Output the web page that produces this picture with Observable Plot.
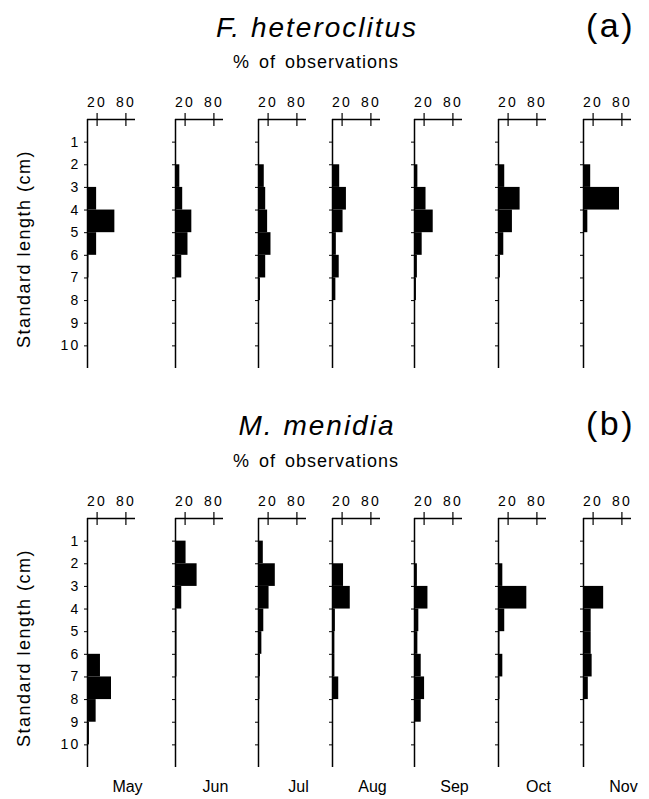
<!DOCTYPE html>
<html><head><meta charset="utf-8">
<script src="https://cdn.jsdelivr.net/npm/d3@7"></script>
<script src="https://cdn.jsdelivr.net/npm/@observablehq/plot@0.6"></script>
<style>
html,body{margin:0;padding:0;background:#fff;overflow:hidden}
#fig{position:relative;width:649px;height:799px;font-family:"Liberation Sans",Arial,sans-serif;color:#000;overflow:hidden}
.t{position:absolute;white-space:nowrap;line-height:1}
.mini{position:absolute}
.mini g[aria-label="text"]{letter-spacing:0}
</style></head><body><div id="fig"></div>
<script>
// ---- data ----
const months = ["May","Jun","Jul","Aug","Sep","Oct","Nov"];
const binStarts = [1,2,3,4,5,6,7,8,9,10];      // standard-length bins (cm): [b, b+1)
const yTicks = [1,2,3,4,5,6,7,8,9,10];
const xTicks = [20,80];
const speciesA = "F. heteroclitus";
const speciesB = "M. menidia";
// % of observations per bin, one row per month (May..Nov)
const heteroclitus = [
  [0, 0.5, 19, 57, 19, 3, 0.5, 0, 0, 0],
  [1.5, 9, 15, 34, 26, 13, 2, 0.5, 0, 0],
  [2, 12, 15, 19, 26, 15, 4, 1, 0, 0],
  [0.5, 15, 29, 22, 8, 14, 7, 1, 0, 0],
  [0.5, 7, 24, 39, 16, 6, 4, 0.5, 0, 0],
  [0, 13, 45, 29, 11, 4, 1, 0, 0, 0],
  [0, 15, 75, 9, 0, 0, 0, 0, 0, 0]
];
const menidia = [
  [0, 0, 0, 0, 0, 27, 50, 18, 4, 0],
  [22, 45, 13, 3, 3, 3, 2, 1, 0.5, 0],
  [10, 35, 22, 11, 7, 4, 3, 2, 0.5, 0],
  [0, 23, 37, 6, 5, 5, 13, 2, 0, 0],
  [0, 6, 28, 9, 7, 14, 21, 14, 1, 0],
  [0, 9, 59, 13, 3, 9, 3, 2, 1, 0],
  [0, 0, 42, 16, 16, 18, 10, 0, 0, 0]
];

// ---- layout ----
const FONT = '"Liberation Sans", Arial, sans-serif';
const monthX = [87, 175, 257.5, 332, 414, 498, 583]; // pixel of each panel's zero line
const axisTop = [119, 517.7];
const ML = 40, MR = 30, MT = 40, MB = 34, XW = 48, YH = 249;
const fig = document.getElementById("fig");

function addText(txt, css) {
  const d = document.createElement("div");
  d.className = "t";
  d.textContent = txt;
  Object.assign(d.style, css);
  fig.appendChild(d);
}

function miniPlot(values, month, showY, showMonth) {
  const rows = binStarts.map((b, i) => ({lo: b, hi: b + 1, pct: values[i]}));
  return Plot.plot({
    width: ML + XW + MR, height: MT + YH + MB,
    marginLeft: ML, marginRight: MR, marginTop: MT, marginBottom: MB,
    style: {fontFamily: FONT, fontSize: "14px", letterSpacing: "2.2px", background: "transparent", overflow: "visible", color: "black"},
    x: {domain: [0, 100]},
    y: {domain: [0, 11], reverse: true},
    marks: [
      Plot.rect(rows, {x1: 0, x2: "pct", y1: "lo", y2: "hi", fill: "black"}),
      Plot.ruleX([0], {strokeWidth: 1.5}),
      Plot.ruleY([0], {strokeWidth: 1.4}),
      Plot.ruleX(xTicks, {y1: 0, y2: 0, insetTop: -6, insetBottom: -7, strokeWidth: 1.2}),
      Plot.axisX({anchor: "top", ticks: xTicks, tickSize: 0, tickPadding: 13, label: null}),
      Plot.axisY({anchor: "left", ticks: yTicks, tickSize: 3, tickPadding: 4, label: null,
                  tickFormat: showY ? (d => String(d)) : (() => "")}),
      showMonth ? Plot.text([month], {frameAnchor: "bottom", dx: 16, dy: 24, fontSize: 16, fontFamily: FONT}) : null
    ]
  });
}

[[heteroclitus, 0], [menidia, 1]].forEach(([vals, p]) => {
  months.forEach((m, i) => {
    const svg = miniPlot(vals[i], m, i === 0, p === 1);
    svg.classList.add("mini");
    svg.style.left = (monthX[i] - ML) + "px";
    svg.style.top = (axisTop[p] - MT) + "px";
    fig.appendChild(svg);
  });
});

// ---- titles & labels ----
const off = axisTop[1] - axisTop[0];
[[speciesA, "(a)", 0], [speciesB, "(b)", 1]].forEach(([sp, tag, p]) => {
  const o = p * off;
  addText(sp, {left: "317px", top: (13.6 + o) + "px", fontSize: "28px", fontStyle: "italic", letterSpacing: "2px", transform: "translateX(-50%)"});
  addText("% of observations", {left: "316px", top: (53.1 + o) + "px", fontSize: "18px", letterSpacing: "1px", wordSpacing: "3px", transform: "translateX(-50%)"});
  addText(tag, {left: "586px", top: (7.5 + o) + "px", fontSize: "34px", letterSpacing: "2.5px"});
  addText("Standard length (cm)", {left: "24px", top: (249 + o) + "px", fontSize: "18px", letterSpacing: "1.5px", transform: "translate(-50%,-50%) rotate(-90deg)"});
});
</script>
</body></html>
